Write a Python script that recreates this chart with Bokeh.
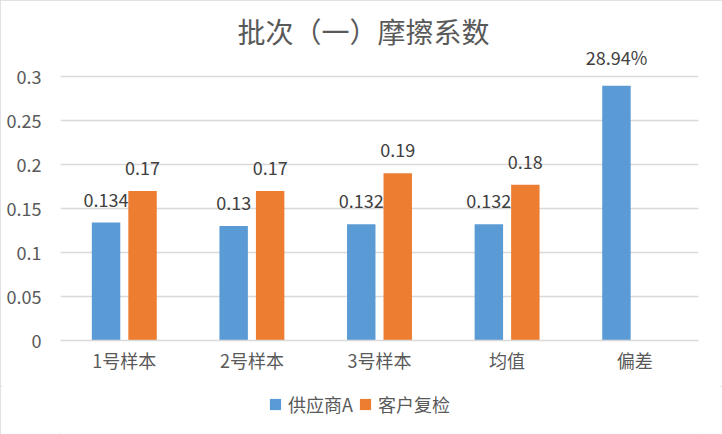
from bokeh.plotting import figure
from bokeh.layouts import column
from bokeh.models import (ColumnDataSource, FactorRange, Range1d, FixedTicker,
                          Legend, LegendItem)
from bokeh.transform import dodge
from bokeh.core.properties import value
from bokeh.embed import file_html
from bokeh.resources import INLINE

# ---- data ----
categories = ["1号样本", "2号样本", "3号样本", "均值", "偏差"]
supplier_a = [0.134, 0.13, 0.132, 0.132, 0.2894]
customer_check = [0.17, 0.17, 0.19, 0.177, float("nan")]
supplier_a_labels = ["0.134", "0.13", "0.132", "0.132", "28.94%"]
customer_check_labels = ["0.17", "0.17", "0.19", "0.18", ""]
series_names = ["供应商A", "客户复检"]
y_ticks = [0, 0.05, 0.1, 0.15, 0.2, 0.25, 0.3]
y_tick_labels = ["0", "0.05", "0.1", "0.15", "0.2", "0.25", "0.3"]
title_text = "批次（一）摩擦系数"

FONT = "Noto Sans CJK SC"
BLUE = "#5B9BD5"
ORANGE = "#ED7D31"
GRID = "#D9D9D9"
TXT = "#595959"

src = ColumnDataSource(dict(cat=categories, a=supplier_a, b=customer_check,
                            la=supplier_a_labels, lb=customer_check_labels))

p = figure(width=722, height=386, output_backend="svg", toolbar_location=None,
           x_range=FactorRange(*categories), y_range=Range1d(0, 0.32955),
           min_border_left=60, min_border_right=24, min_border_top=50,
           min_border_bottom=46)

p.title.text = title_text
p.title.text_font = FONT
p.title.text_font_size = "28px"
p.title.text_font_style = "normal"
p.title.text_color = TXT
p.title.align = "left"
p.title.offset = 177
p.title.standoff = 0

off = 0.143
bw = 0.223
ra = p.vbar(x=dodge("cat", -off, range=p.x_range), top="a", width=bw, source=src,
            fill_color=BLUE, line_color=None)
rb = p.vbar(x=dodge("cat", off, range=p.x_range), top="b", width=bw, source=src,
            fill_color=ORANGE, line_color=None)

for col, lab in ((-off, "la"), (off, "lb")):
    fld = "a" if lab == "la" else "b"
    p.text(x=dodge("cat", col, range=p.x_range), y=fld, text=lab, source=src,
           text_font=value(FONT), text_font_size="18px", text_color="#404040",
           text_align="center", text_baseline="bottom", y_offset=-16)

p.xgrid.grid_line_color = None
p.ygrid.grid_line_color = GRID
p.ygrid.grid_line_width = 1.3
p.outline_line_color = None

p.yaxis.ticker = FixedTicker(ticks=y_ticks)
p.yaxis.major_label_overrides = {t: s for t, s in zip(y_ticks, y_tick_labels)}
p.yaxis.axis_line_color = None
p.yaxis.major_tick_line_color = None
p.yaxis.minor_tick_line_color = None
p.yaxis.major_label_standoff = 13
p.yaxis.major_label_text_font = FONT
p.yaxis.major_label_text_font_size = "18px"
p.yaxis.major_label_text_color = TXT

p.xaxis.axis_line_color = GRID
p.xaxis.axis_line_width = 1.3
p.xaxis.major_tick_line_color = None
p.xaxis.minor_tick_line_color = None
p.xaxis.major_label_standoff = 0
p.xaxis.major_label_text_font = FONT
p.xaxis.major_label_text_font_size = "18px"
p.xaxis.major_label_text_color = TXT

# legend strip below the chart (same series, bars kept outside its view)
p2 = figure(width=722, height=48, output_backend="svg", toolbar_location=None,
            x_range=FactorRange(*categories), y_range=Range1d(10, 11),
            min_border=0, x_axis_location=None, y_axis_location=None)
p2.grid.grid_line_color = None
p2.outline_line_color = None
la = p2.vbar(x="cat", top="a", width=bw, source=src, fill_color=BLUE, line_color=None)
lb = p2.vbar(x="cat", top="b", width=bw, source=src, fill_color=ORANGE, line_color=None)

legend = Legend(items=[LegendItem(label=series_names[0], renderers=[la]),
                       LegendItem(label=series_names[1], renderers=[lb])],
                orientation="horizontal", location=(208, 17),
                label_text_font=FONT, label_text_font_size="18px",
                label_text_color=TXT, glyph_width=14, glyph_height=14,
                label_standoff=6, spacing=5, padding=0, margin=0,
                border_line_color=None, background_fill_alpha=0)
p2.add_layout(legend, "center")

layout = column(p, p2, spacing=0,
                styles={"outline": "2px solid #D9D9D9", "outline-offset": "-2px"})

open("out.html", "w").write(file_html(layout, INLINE))
